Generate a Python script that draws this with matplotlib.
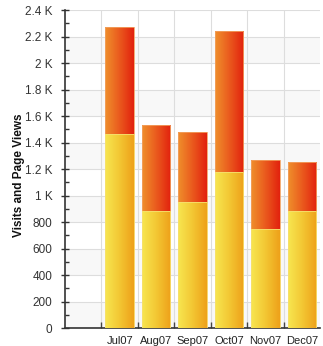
import numpy as np
import matplotlib
matplotlib.use("Agg")
import matplotlib.pyplot as plt
from matplotlib.colors import LinearSegmentedColormap
from matplotlib.ticker import FuncFormatter, MultipleLocator, FixedLocator

plt.rcParams['font.family'] = ['Liberation Sans', 'DejaVu Sans']

categories = ['', 'Jul07', 'Aug07', 'Sep07', 'Oct07', 'Nov07', 'Dec07']
page_views = [None, 2270, 1530, 1480, 2240, 1265, 1255]
visits = [None, 1465, 885, 950, 1180, 750, 885]
y_label = 'Visits and Page Views'

fig = plt.figure(figsize=(3.23, 3.46), dpi=100)
ax = fig.add_axes([0.201, 0.052, 0.790, 0.919])

ymax = 2400
# alternating background bands
for k in range(0, 12):
    if k % 2 == 0:
        ax.axhspan(k * 200, (k + 1) * 200, color='#f8f8f8', lw=0, zorder=0)

ax.set_axisbelow(True)
ax.grid(True, axis='y', which='major', color='#dddddd', lw=0.8, zorder=0.5)
ax.grid(True, axis='x', which='minor', color='#dddddd', lw=0.8, zorder=0.5)

cmap_v = LinearSegmentedColormap.from_list('v', ['#f7e650', '#f3c733', '#eea11a'])
cmap_p = LinearSegmentedColormap.from_list('p', ['#ef8f2c', '#ea5a1e', '#e2220e'])
grad = np.linspace(0, 1, 64).reshape(1, -1)

x = np.arange(len(categories))
width = 0.78

def gradient_bars(values, cmap, edge, z):
    xs = [xi for xi, v in zip(x, values) if v is not None]
    vs = [v for v in values if v is not None]
    bars = ax.bar(xs, vs, width=width, color='none', edgecolor=edge, lw=0.6, zorder=z + 0.1)
    for b in bars:
        x0, y0 = b.get_x(), b.get_y()
        im = ax.imshow(grad, cmap=cmap, aspect='auto', interpolation='bicubic',
                       extent=[x0, x0 + b.get_width(), y0, y0 + b.get_height()], zorder=z)
        im.set_clip_path(b)
    return bars

gradient_bars(page_views, cmap_p, '#f2a060', 2)
gradient_bars(visits, cmap_v, '#f7e070', 3)

ax.set_xlim(-0.5, len(categories) - 0.5)
ax.set_ylim(0, ymax)

ax.set_xticks(x)
ax.set_xticklabels(categories, fontsize=8, color='#222')
ax.xaxis.set_minor_locator(FixedLocator(np.arange(0.5, len(categories) - 0.5, 1)))
ax.tick_params(axis='x', which='major', length=0, pad=6)
ax.tick_params(axis='x', which='minor', direction='in', length=4, color='#444', width=1)

def fmt(v, pos):
    if v >= 1000:
        s = ('%g' % (v / 1000))
        return s + ' K'
    return '%d' % v

ax.yaxis.set_major_locator(MultipleLocator(200))
ax.yaxis.set_minor_locator(MultipleLocator(100))
ax.yaxis.set_major_formatter(FuncFormatter(fmt))
ax.tick_params(axis='y', which='major', direction='inout', length=6, color='#333', width=1,
               labelsize=8.5, labelcolor='#333', pad=6)
ax.tick_params(axis='y', which='minor', direction='in', length=3, color='#333', width=1)

for s in ['top', 'right']:
    ax.spines[s].set_visible(False)
for s in ['left', 'bottom']:
    ax.spines[s].set_color('#333')
    ax.spines[s].set_linewidth(1.2)

ax.set_ylabel(y_label, fontsize=8.5, fontweight='bold', color='#111')
ax.yaxis.set_label_coords(-0.155, 0.48)

fig.savefig('out.png', dpi=100, facecolor='white')
